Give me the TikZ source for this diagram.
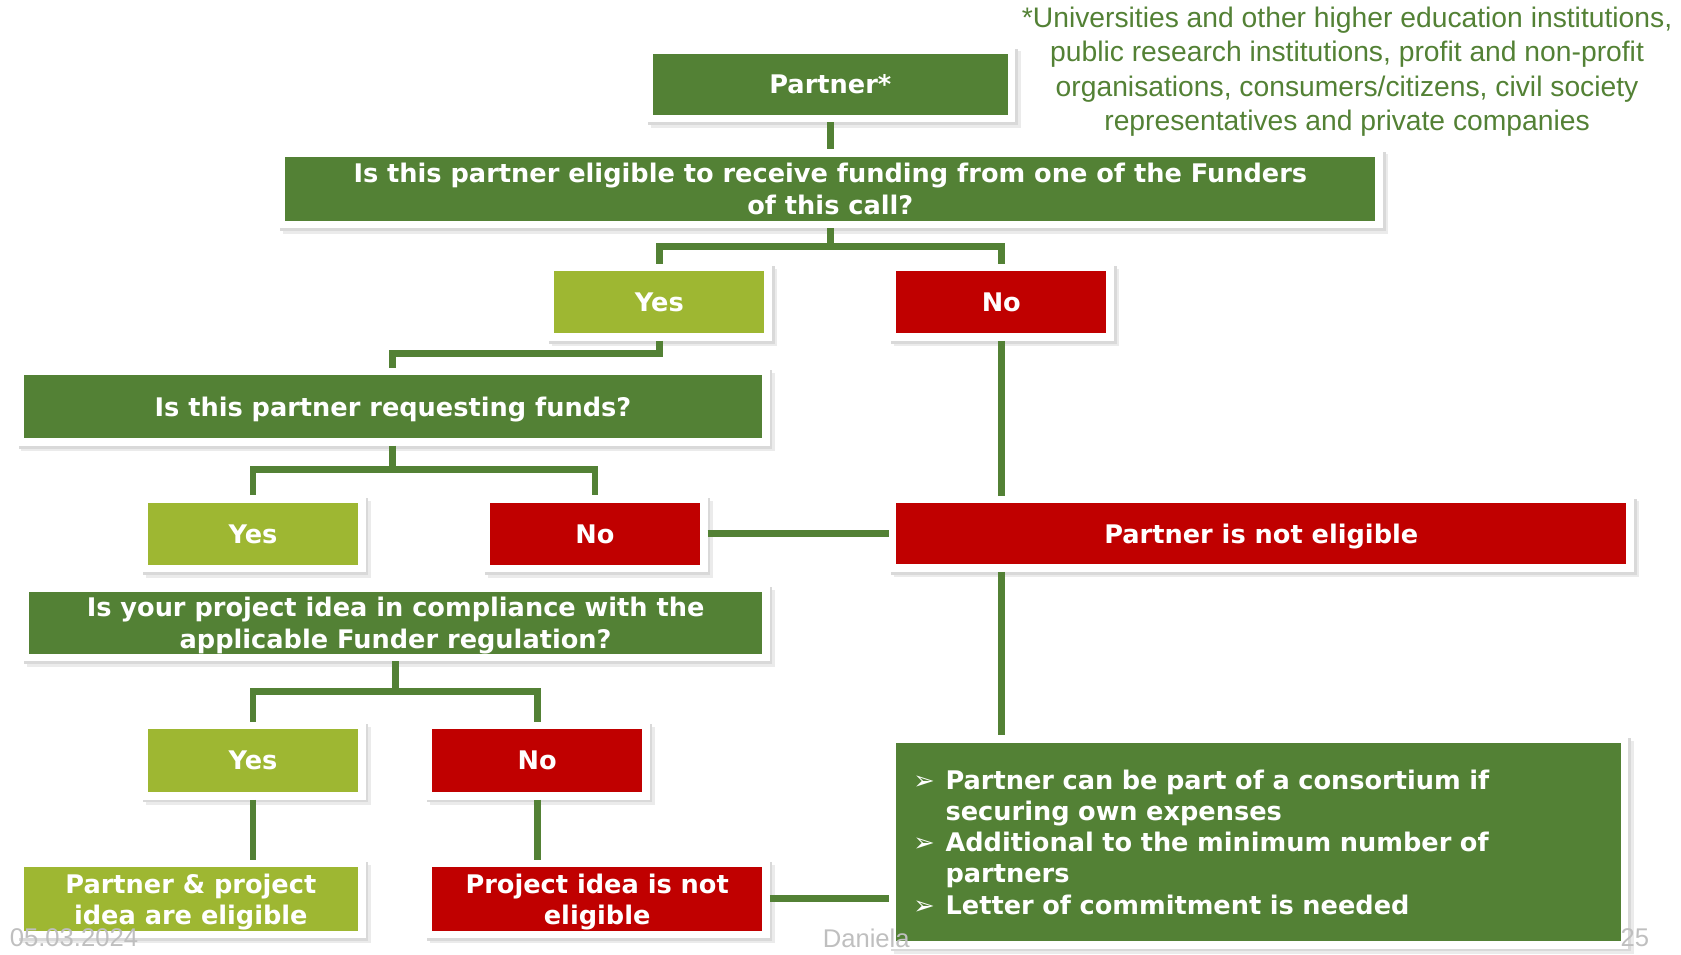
\documentclass[tikz,border=0pt]{standalone}
\usepackage{fontspec}
\setmainfont{DejaVu Sans}
\newfontfamily\notefont{Liberation Sans}
\usepackage{xcolor}
\usepackage{tikz}

\definecolor{leaf}{RGB}{83,129,53}
\definecolor{lime}{RGB}{158,183,50}
\definecolor{stop}{RGB}{192,0,0}

\newcommand{\bul}{\makebox[0.6cm][l]{➢}}
\newcommand{\ind}{\hspace*{0.6cm}}

\begin{document}
\begin{tikzpicture}[
  box/.style={draw=white, line width=0.14cm, inner sep=0pt, align=center, text=white,
    font=\bfseries\fontsize{13.6}{16.6}\selectfont,
    preaction={draw=black!8, fill=black!8, transform canvas={xshift=0.1cm, yshift=-0.1cm}},
    preaction={draw=black!15, fill=black!15, transform canvas={xshift=0.05cm, yshift=-0.05cm}}},
  flat/.style={box, text depth=0pt},
  small/.style={flat, minimum width=4.06cm, minimum height=1.30cm},
  link/.style={draw=leaf, line width=0.13cm},
  foot/.style={text=black!25, font=\notefont\fontsize{13.6}{16}\selectfont}
]
\useasboundingbox (0,0) rectangle (31.36,-17.8);

% note on partners
\node[text=leaf, align=center, font=\notefont\fontsize{15}{18.2}\selectfont] (note) at (25.13,-1.34)
  {*Universities and other higher education institutions,\\public research institutions, profit and non-profit\\organisations, consumers/citizens, civil society\\representatives and private companies};

\node[flat, fill=leaf, minimum width=6.76cm, minimum height=1.28cm] (partner) at (15.49,-1.57) {Partner*};
\node[flat, fill=leaf, minimum width=20.48cm, minimum height=1.34cm] (q1) at (15.49,-3.52)
  {Is this partner eligible to receive funding from one of the Funders\\of this call?};
\node[small, fill=lime] (yes1) at (12.30,-5.64) {Yes};
\node[small, fill=stop] (no1) at (18.68,-5.64) {No};

\node[flat, fill=leaf, minimum width=13.92cm, minimum height=1.32cm] (q2) at (7.33,-7.59) {Is this partner requesting funds?};
\node[small, fill=lime] (yes2) at (4.72,-9.96) {Yes};
\node[small, fill=stop] (no2) at (11.10,-9.96) {No};
\node[flat, fill=stop, minimum width=13.76cm, minimum height=1.28cm] (notelig) at (23.53,-9.96) {Partner is not eligible};

\node[flat, fill=leaf, minimum width=13.82cm, minimum height=1.30cm] (q3) at (7.38,-11.62)
  {Is your project idea in compliance with the\\applicable Funder regulation?};
\node[small, fill=lime, minimum height=1.32cm] (yes3) at (4.72,-14.19) {Yes};
\node[small, fill=stop, minimum height=1.32cm] (no3) at (10.02,-14.19) {No};

\node[flat, fill=lime, minimum width=6.38cm, minimum height=1.32cm] (elig) at (3.56,-16.77) {Partner \& project\\idea are eligible};
\node[flat, fill=stop, minimum width=6.30cm, minimum height=1.32cm] (ideanot) at (11.14,-16.77) {Project idea is not\\eligible};

\node[box, fill=leaf, minimum width=13.66cm, minimum height=3.84cm, text width=12.88cm, align=left] (consort) at (23.48,-15.71)
  {\bul Partner can be part of a consortium if\\\ind securing own expenses\\
   \bul Additional to the minimum number of\\\ind partners\\
   \bul Letter of commitment is needed};

% connectors
\draw[link] (partner) -- (q1);
\draw[link] (q1.south) -- ++(0,-0.34) -| (yes1.north);
\draw[link] (q1.south) -- ++(0,-0.34) -| (no1.north);
\draw[link] (yes1.south) -- ++(0,-0.24) -| (q2.north);
\draw[link] (q2.south) -- ++(0,-0.44) -| (yes2.north);
\draw[link] (q2.south) -- ++(0,-0.44) -| (no2.north);
\draw[link] (no2) -- (notelig);
\draw[link] (no1.south) -- (no1.south |- notelig.north);
\draw[link] (no1 |- notelig.south) -- (no1 |- consort.north);
\draw[link] (q3.south) -- ++(0,-0.56) -| (yes3.north);
\draw[link] (q3.south) -- ++(0,-0.56) -| (no3.north);
\draw[link] (yes3.south) -- (yes3.south |- elig.north);
\draw[link] (no3.south) -- (no3.south |- ideanot.north);
\draw[link] (ideanot.east) -- (ideanot.east -| consort.west);

% footer
\node[foot] (date) at (1.38,-17.5) {05.03.2024};
\node[foot] (name) at (16.16,-17.5) {Daniela};
\node[foot] (page) at (30.5,-17.5) {25};
\end{tikzpicture}
\end{document}
